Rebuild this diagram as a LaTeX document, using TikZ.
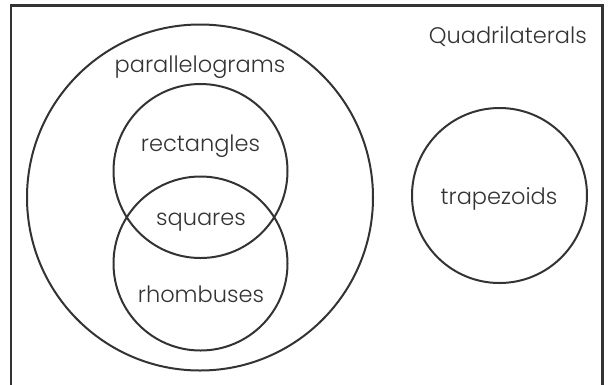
\documentclass[tikz,border=0pt]{standalone}
\usepackage{fontspec}
\setmainfont{Poppins}[UprightFont=* Light]
\definecolor{ink}{HTML}{333333}
\begin{document}
\begin{tikzpicture}[x=1pt,y=-1pt,
  ring/.style={circle,draw=ink,line width=2pt,inner sep=0pt},
  lbl/.style={text=ink,font=\fontsize{22.5}{26}\selectfont,anchor=base,inner sep=0pt}]
\useasboundingbox (0,0) rectangle (611,384);
\draw[draw=ink,line width=2.5pt] (11,395) rectangle (602.7,5.5);
\node[ring,minimum size=346pt] (par) at (200,197.5) {};
\node[ring,minimum size=174pt] (rect) at (200.5,171) {};
\node[ring,minimum size=174pt] (rhom) at (200.5,263.5) {};
\node[ring,minimum size=175pt] (trap) at (499.5,195.5) {};
\node[lbl,anchor=base east] (quad) at (587,43) {Quadrilaterals};
\node[lbl] (parl) at (200,72) {parallelograms};
\node[lbl] (rectl) at (200.5,151) {rectangles};
\node[lbl] (sqrl) at (201,225) {squares};
\node[lbl] (rhoml) at (201,302) {rhombuses};
\node[lbl] (trapl) at (499,204) {trapezoids};
\end{tikzpicture}
\end{document}
